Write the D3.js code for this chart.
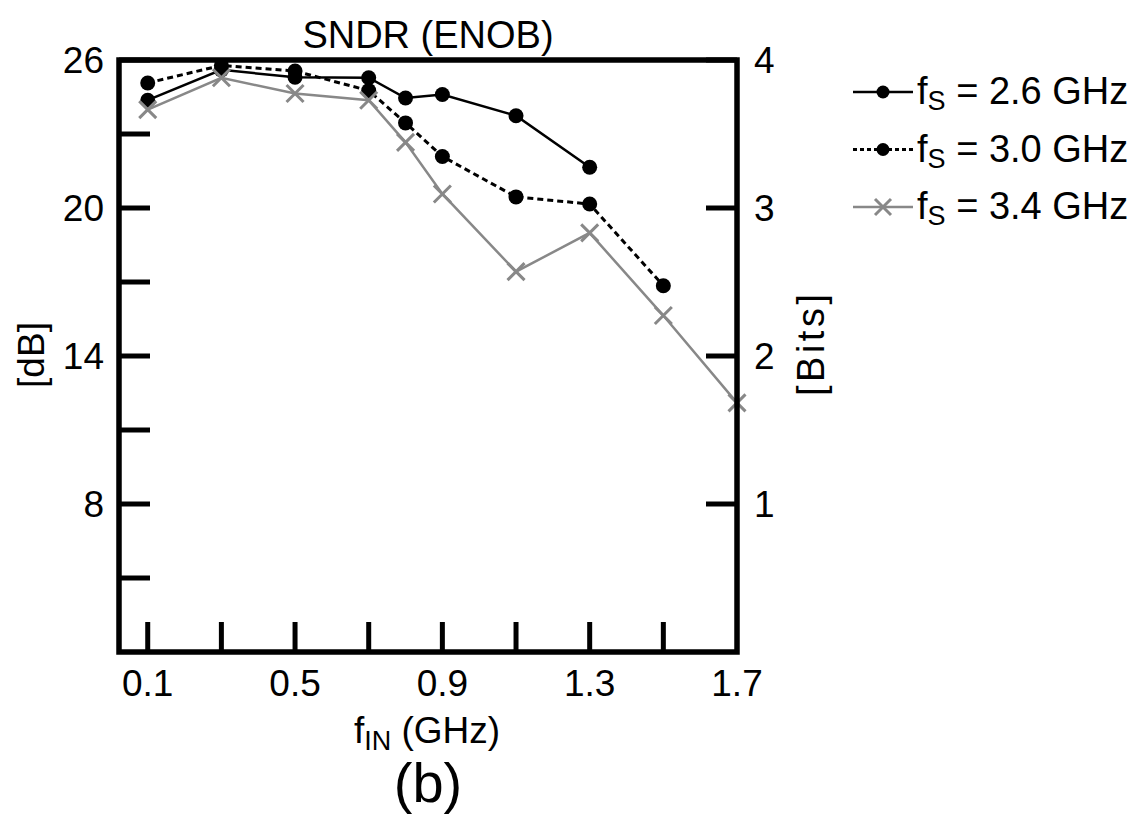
<!DOCTYPE html>
<html lang="en">
<head>
  <meta charset="utf-8">
  <title>SNDR (ENOB)</title>
  <script src="https://d3js.org/d3.v7.min.js"></script>
  <style>
    body { margin: 0; background: #fff; }
    text { font-family: "Liberation Sans", Arial, sans-serif; fill: #000; }
  </style>
</head>
<body>
<script>
  // input frequency (GHz) for each series
  var fin26 = [0.1, 0.3, 0.5, 0.7, 0.8, 0.9, 1.1, 1.3];
  var fin30 = [0.1, 0.3, 0.5, 0.7, 0.8, 0.9, 1.1, 1.3, 1.5];
  var fin34 = [0.1, 0.3, 0.5, 0.7, 0.8, 0.9, 1.1, 1.3, 1.5, 1.7];

  // SNDR in dB
  var sndr26 = [24.37, 25.6, 25.3, 25.28, 24.46, 24.6, 23.74, 21.65];
  var sndr30 = [25.07, 25.78, 25.55, 24.76, 23.45, 22.09, 20.45, 20.16, 16.85];
  var sndr34 = [23.99, 25.28, 24.64, 24.37, 22.66, 20.57, 17.42, 18.99, 15.64, 12.1];

  var seriesNames = ["2.6 GHz", "3.0 GHz", "3.4 GHz"];

  // ticks
  var xTicks = [0.1, 0.3, 0.5, 0.7, 0.9, 1.1, 1.3, 1.5];
  var xTickLabels = [0.1, 0.5, 0.9, 1.3, 1.7];
  var dbTicks = [5, 8, 11, 14, 17, 20, 23, 26];
  var dbTickLabels = [8, 14, 20, 26];
  var bitTicks = [1, 2, 3, 4];

  var W = 1144, H = 817;
  // plot box (note: "top" is taken by window.top, so use other names)
  var pL = 119, pR = 737, pT = 60, pB = 652;

  var svg = d3.select("body").append("svg")
      .attr("width", W)
      .attr("height", H);

  var x = d3.scaleLinear().domain([0.022, 1.7]).range([pL, pR]);
  var y = d3.scaleLinear().domain([2, 26]).range([pB, pT]);
  var yBits = d3.scaleLinear().domain([0, 4]).range([pB, pT]);

  var series = [
    { name: seriesNames[0], fin: fin26, v: sndr26, color: "#000", dash: null, mark: "dot" },
    { name: seriesNames[1], fin: fin30, v: sndr30, color: "#000", dash: "6,4", mark: "dot" },
    { name: seriesNames[2], fin: fin34, v: sndr34, color: "#888", dash: null, mark: "cross" }
  ];

  var line = d3.line()
      .x(function(d) { return x(d[0]); })
      .y(function(d) { return y(d[1]); });

  // data lines, drawn before the frame so the last cross sits under the right edge
  series.forEach(function(s) {
    var pts = s.fin.map(function(f, i) { return [f, s.v[i]]; });
    svg.append("path")
        .datum(pts)
        .attr("d", line)
        .attr("fill", "none")
        .attr("stroke", s.color)
        .attr("stroke-width", s.dash ? 3 : 2.5)
        .attr("stroke-dasharray", s.dash);
  });

  function drawMark(g, s, cx, cy, r) {
    if (s.mark == "dot") {
      g.append("circle").attr("cx", cx).attr("cy", cy).attr("r", r).attr("fill", s.color);
    } else {
      g.append("path")
          .attr("d", "M" + (cx - r) + "," + (cy - r) + "L" + (cx + r) + "," + (cy + r) +
                     "M" + (cx - r) + "," + (cy + r) + "L" + (cx + r) + "," + (cy - r))
          .attr("stroke", s.color)
          .attr("stroke-width", 3)
          .attr("fill", "none");
    }
  }

  series.forEach(function(s) {
    var g = svg.append("g");
    s.fin.forEach(function(f, i) {
      drawMark(g, s, x(f), y(s.v[i]), s.mark == "dot" ? 7.5 : 8.5);
    });
  });

  // frame
  svg.append("rect")
      .attr("x", pL).attr("y", pT)
      .attr("width", pR - pL).attr("height", pB - pT)
      .attr("fill", "none")
      .attr("stroke", "#000")
      .attr("stroke-width", 5.5);

  // inward ticks
  svg.selectAll(".xt").data(xTicks).enter().append("line")
      .attr("x1", function(d) { return x(d); }).attr("x2", function(d) { return x(d); })
      .attr("y1", pB).attr("y2", pB - 30)
      .attr("stroke", "#000").attr("stroke-width", 5);

  svg.selectAll(".yt").data(dbTicks).enter().append("line")
      .attr("x1", pL).attr("x2", pL + 31)
      .attr("y1", function(d) { return y(d); }).attr("y2", function(d) { return y(d); })
      .attr("stroke", "#000").attr("stroke-width", 5);

  svg.selectAll(".bt").data(bitTicks).enter().append("line")
      .attr("x1", pR).attr("x2", pR - 31)
      .attr("y1", function(d) { return yBits(d); }).attr("y2", function(d) { return yBits(d); })
      .attr("stroke", "#000").attr("stroke-width", 5);

  // tick labels
  svg.selectAll(".xl").data(xTickLabels).enter().append("text")
      .attr("x", function(d) { return x(d); })
      .attr("y", 696)
      .attr("text-anchor", "middle")
      .attr("font-size", 37)
      .text(function(d) { return d3.format(".1f")(d); });

  svg.selectAll(".yl").data(dbTickLabels).enter().append("text")
      .attr("x", 104)
      .attr("y", function(d) { return y(d); })
      .attr("dy", "0.36em")
      .attr("text-anchor", "end")
      .attr("font-size", 37)
      .text(function(d) { return d; });

  svg.selectAll(".bl").data(bitTicks).enter().append("text")
      .attr("x", 754)
      .attr("y", function(d) { return yBits(d); })
      .attr("dy", "0.36em")
      .attr("font-size", 37)
      .text(function(d) { return d; });

  // titles
  svg.append("text")
      .attr("x", 428).attr("y", 48)
      .attr("text-anchor", "middle")
      .attr("font-size", 38)
      .text("SNDR (ENOB)");

  svg.append("text")
      .attr("transform", "translate(44,355) rotate(-90)")
      .attr("text-anchor", "middle")
      .attr("font-size", 37)
      .text("[dB]");

  svg.append("text")
      .attr("transform", "translate(824,345) rotate(-90)")
      .attr("text-anchor", "middle")
      .attr("font-size", 38)
      .attr("textLength", 102)
      .text("[Bits]");

  var xl = svg.append("text")
      .attr("x", 427).attr("y", 743)
      .attr("text-anchor", "middle")
      .attr("font-size", 37);
  xl.append("tspan").text("f");
  xl.append("tspan").attr("font-size", 27).attr("dy", 7).text("IN");
  xl.append("tspan").attr("dy", -7).text(" (GHz)");

  svg.append("text")
      .attr("x", 428).attr("y", 802)
      .attr("text-anchor", "middle")
      .attr("font-size", 56)
      .text("(b)");

  // legend
  series.forEach(function(s, i) {
    var ly = 92 + i * 57.5;
    var g = svg.append("g");
    g.append("line")
        .attr("x1", 853).attr("x2", 913)
        .attr("y1", ly).attr("y2", ly)
        .attr("stroke", s.color)
        .attr("stroke-width", s.dash ? 3 : 2.5)
        .attr("stroke-dasharray", s.dash ? "4,3" : null);
    drawMark(g, s, 883, ly, s.mark == "dot" ? 6.5 : 8);
    var t = g.append("text")
        .attr("x", 917).attr("y", ly + 12)
        .attr("font-size", 38);
    t.append("tspan").text("f");
    t.append("tspan").attr("font-size", 27).attr("dy", 6).text("S");
    t.append("tspan").attr("dy", -6).text(" = " + s.name);
  });
</script>
</body>
</html>
